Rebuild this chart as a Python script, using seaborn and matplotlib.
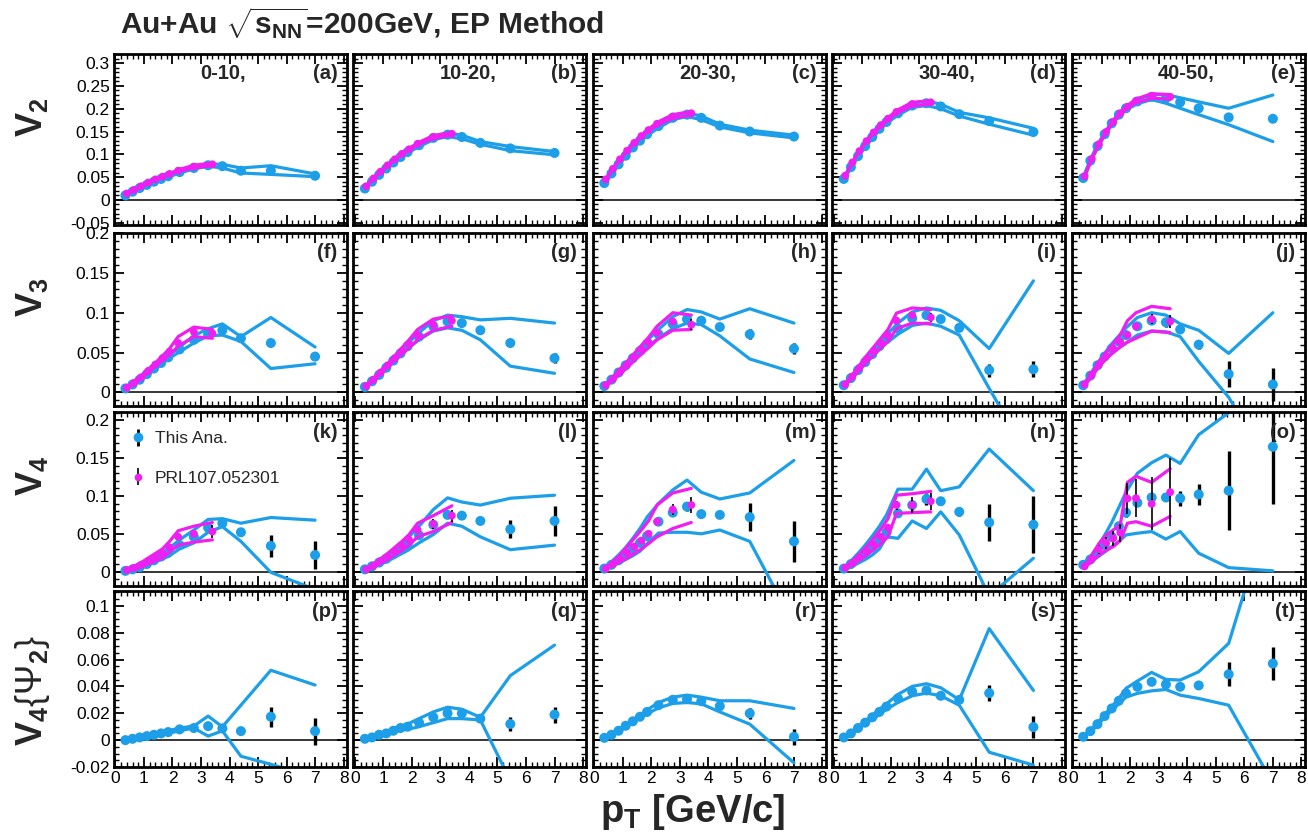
import numpy as np
import matplotlib
matplotlib.use("Agg")
import matplotlib.pyplot as plt
import seaborn as sns
from matplotlib.ticker import MultipleLocator, FuncFormatter

# ---------------------------------------------------------------- data
PT_THIS = [0.35, 0.6, 0.85, 1.1, 1.35, 1.6, 1.85, 2.25, 2.75, 3.25, 3.75, 4.4, 5.45, 7.0]
PT_PRL = [0.4, 0.65, 0.9, 1.15, 1.4, 1.65, 1.9, 2.2, 2.75, 3.4]
CENTRALITIES = ["0-10,", "10-20,", "20-30,", "30-40,", "40-50,"]
PANEL_TAGS = list("abcdefghijklmnopqrst")

# ---- v2
V2_THIS_Y = [
    [0.010, 0.018, 0.026, 0.033, 0.040, 0.046, 0.052, 0.061, 0.070, 0.076, 0.074, 0.064, 0.064, 0.053],
    [0.025, 0.040, 0.055, 0.069, 0.082, 0.094, 0.105, 0.120, 0.136, 0.143, 0.138, 0.125, 0.113, 0.103],
    [0.037, 0.058, 0.078, 0.097, 0.115, 0.130, 0.144, 0.162, 0.180, 0.187, 0.180, 0.163, 0.150, 0.139],
    [0.046, 0.072, 0.096, 0.118, 0.138, 0.156, 0.171, 0.190, 0.207, 0.212, 0.205, 0.188, 0.173, 0.149],
    [0.048, 0.086, 0.118, 0.144, 0.168, 0.187, 0.201, 0.216, 0.226, 0.223, 0.214, 0.201, 0.181, 0.178],
]
V2_THIS_ERR = [
    [0, 0, 0, 0, 0, 0, 0, 0, 0.001, 0.001, 0.001, 0.001, 0.002, 0.002],
    [0, 0, 0, 0, 0, 0, 0, 0, 0.001, 0.001, 0.001, 0.001, 0.002, 0.002],
    [0, 0, 0, 0, 0, 0, 0, 0, 0.001, 0.001, 0.001, 0.001, 0.002, 0.003],
    [0, 0, 0, 0, 0, 0, 0, 0, 0.001, 0.001, 0.001, 0.002, 0.002, 0.003],
    [0, 0, 0, 0, 0, 0, 0, 0, 0.001, 0.001, 0.002, 0.002, 0.003, 0.004],
]
V2_THIS_HI = [
    [0.012, 0.020, 0.028, 0.035, 0.042, 0.048, 0.054, 0.063, 0.073, 0.079, 0.078, 0.070, 0.075, 0.057],
    [0.027, 0.042, 0.057, 0.071, 0.084, 0.096, 0.107, 0.123, 0.140, 0.147, 0.142, 0.128, 0.117, 0.106],
    [0.039, 0.060, 0.080, 0.099, 0.117, 0.133, 0.147, 0.166, 0.184, 0.191, 0.184, 0.166, 0.153, 0.142],
    [0.048, 0.074, 0.098, 0.120, 0.141, 0.159, 0.174, 0.194, 0.211, 0.217, 0.210, 0.192, 0.180, 0.157],
    [0.050, 0.088, 0.121, 0.147, 0.171, 0.190, 0.205, 0.220, 0.231, 0.231, 0.224, 0.215, 0.201, 0.230],
]
V2_THIS_LO = [
    [0.008, 0.016, 0.024, 0.031, 0.038, 0.044, 0.050, 0.059, 0.068, 0.074, 0.070, 0.059, 0.056, 0.051],
    [0.023, 0.038, 0.053, 0.067, 0.080, 0.092, 0.103, 0.117, 0.132, 0.139, 0.134, 0.122, 0.108, 0.099],
    [0.035, 0.056, 0.076, 0.095, 0.113, 0.127, 0.141, 0.158, 0.176, 0.183, 0.176, 0.160, 0.147, 0.136],
    [0.044, 0.070, 0.094, 0.116, 0.135, 0.153, 0.168, 0.186, 0.203, 0.207, 0.200, 0.184, 0.166, 0.142],
    [0.046, 0.084, 0.115, 0.141, 0.165, 0.184, 0.197, 0.211, 0.220, 0.212, 0.201, 0.187, 0.165, 0.128],
]
V2_PRL_Y = [
    [0.014, 0.022, 0.030, 0.038, 0.045, 0.051, 0.057, 0.064, 0.073, 0.078],
    [0.030, 0.047, 0.062, 0.076, 0.089, 0.101, 0.111, 0.123, 0.138, 0.145],
    [0.045, 0.068, 0.089, 0.108, 0.125, 0.140, 0.153, 0.167, 0.183, 0.190],
    [0.053, 0.082, 0.107, 0.129, 0.148, 0.164, 0.178, 0.193, 0.210, 0.214],
    [0.052, 0.090, 0.122, 0.149, 0.171, 0.190, 0.204, 0.217, 0.228, 0.226],
]
V2_PRL_ERR = [
    [0, 0, 0, 0, 0, 0, 0, 0.001, 0.001, 0.001],
    [0, 0, 0, 0, 0, 0, 0, 0.001, 0.001, 0.001],
    [0, 0, 0, 0, 0, 0, 0, 0.001, 0.001, 0.001],
    [0, 0, 0, 0, 0, 0, 0, 0.001, 0.001, 0.002],
    [0, 0, 0, 0, 0, 0, 0, 0.001, 0.002, 0.002],
]
V2_PRL_HI = [
    [0.015, 0.023, 0.031, 0.039, 0.046, 0.052, 0.058, 0.066, 0.076, 0.081],
    [0.031, 0.048, 0.063, 0.077, 0.090, 0.102, 0.113, 0.125, 0.141, 0.148],
    [0.046, 0.069, 0.090, 0.109, 0.126, 0.142, 0.155, 0.170, 0.187, 0.194],
    [0.054, 0.083, 0.108, 0.130, 0.149, 0.166, 0.180, 0.196, 0.214, 0.218],
    [0.053, 0.091, 0.123, 0.150, 0.173, 0.192, 0.207, 0.221, 0.233, 0.231],
]
V2_PRL_LO = [
    [0.013, 0.021, 0.029, 0.037, 0.044, 0.050, 0.056, 0.062, 0.070, 0.075],
    [0.029, 0.046, 0.061, 0.075, 0.088, 0.100, 0.109, 0.121, 0.135, 0.142],
    [0.044, 0.067, 0.088, 0.107, 0.124, 0.138, 0.151, 0.164, 0.179, 0.186],
    [0.052, 0.081, 0.106, 0.128, 0.147, 0.162, 0.176, 0.190, 0.206, 0.210],
    [0.051, 0.089, 0.121, 0.148, 0.169, 0.188, 0.201, 0.213, 0.223, 0.221],
]

# ---- v3
V3_THIS_Y = [
    [0.005, 0.010, 0.016, 0.023, 0.030, 0.037, 0.044, 0.054, 0.066, 0.073, 0.078, 0.068, 0.062, 0.045],
    [0.007, 0.014, 0.022, 0.031, 0.040, 0.049, 0.058, 0.070, 0.083, 0.089, 0.087, 0.078, 0.062, 0.043],
    [0.008, 0.016, 0.025, 0.034, 0.043, 0.052, 0.061, 0.073, 0.086, 0.092, 0.090, 0.082, 0.073, 0.055],
    [0.009, 0.018, 0.028, 0.038, 0.048, 0.058, 0.067, 0.080, 0.093, 0.097, 0.092, 0.081, 0.028, 0.029],
    [0.009, 0.021, 0.034, 0.045, 0.055, 0.064, 0.072, 0.083, 0.090, 0.088, 0.079, 0.060, 0.023, 0.010],
]
V3_THIS_ERR = [
    [0, 0, 0, 0, 0, 0, 0, 0.001, 0.001, 0.001, 0.001, 0.002, 0.002, 0.004],
    [0, 0, 0, 0, 0, 0, 0, 0.001, 0.001, 0.001, 0.002, 0.002, 0.003, 0.006],
    [0, 0, 0, 0, 0, 0, 0, 0.001, 0.001, 0.002, 0.002, 0.003, 0.006, 0.007],
    [0, 0, 0, 0, 0, 0, 0, 0.001, 0.002, 0.003, 0.003, 0.004, 0.008, 0.010],
    [0, 0, 0, 0, 0, 0, 0, 0.002, 0.003, 0.006, 0.004, 0.005, 0.016, 0.021],
]
V3_THIS_HI = [
    [0.006, 0.012, 0.018, 0.025, 0.032, 0.039, 0.046, 0.057, 0.071, 0.080, 0.086, 0.070, 0.094, 0.057],
    [0.008, 0.016, 0.024, 0.033, 0.042, 0.051, 0.061, 0.075, 0.090, 0.097, 0.095, 0.091, 0.093, 0.087],
    [0.009, 0.018, 0.027, 0.036, 0.046, 0.055, 0.065, 0.079, 0.095, 0.104, 0.101, 0.092, 0.105, 0.087],
    [0.010, 0.020, 0.030, 0.040, 0.051, 0.062, 0.072, 0.087, 0.101, 0.106, 0.103, 0.090, 0.055, 0.140],
    [0.010, 0.023, 0.037, 0.049, 0.061, 0.071, 0.081, 0.094, 0.100, 0.097, 0.086, 0.078, 0.049, 0.100],
]
V3_THIS_LO = [
    [0.004, 0.009, 0.014, 0.021, 0.028, 0.035, 0.042, 0.051, 0.062, 0.071, 0.072, 0.064, 0.030, 0.036],
    [0.006, 0.012, 0.020, 0.029, 0.038, 0.047, 0.055, 0.066, 0.077, 0.081, 0.078, 0.066, 0.033, 0.024],
    [0.007, 0.014, 0.023, 0.032, 0.041, 0.049, 0.057, 0.068, 0.080, 0.087, 0.085, 0.071, 0.042, 0.025],
    [0.008, 0.016, 0.026, 0.036, 0.045, 0.054, 0.062, 0.073, 0.084, 0.087, 0.083, 0.072, 0.005, -0.090],
    [0.008, 0.019, 0.031, 0.041, 0.049, 0.056, 0.062, 0.072, 0.077, 0.076, 0.070, 0.039, -0.006, -0.100],
]
V3_PRL_Y = [
    [0.006, 0.012, 0.019, 0.027, 0.035, 0.043, 0.051, 0.062, 0.076, 0.074],
    [0.008, 0.016, 0.025, 0.034, 0.043, 0.052, 0.061, 0.072, 0.085, 0.090],
    [0.009, 0.017, 0.026, 0.035, 0.045, 0.054, 0.063, 0.075, 0.089, 0.085],
    [0.010, 0.020, 0.031, 0.042, 0.052, 0.062, 0.071, 0.090, 0.097, 0.094],
    [0.010, 0.022, 0.035, 0.046, 0.055, 0.063, 0.072, 0.083, 0.092, 0.089],
]
V3_PRL_ERR = [
    [0, 0, 0, 0, 0, 0.001, 0.001, 0.001, 0.002, 0.003],
    [0, 0, 0, 0, 0, 0.001, 0.001, 0.002, 0.003, 0.004],
    [0, 0, 0, 0, 0, 0.001, 0.001, 0.002, 0.004, 0.007],
    [0, 0, 0, 0, 0, 0.001, 0.001, 0.002, 0.004, 0.006],
    [0, 0, 0, 0, 0.001, 0.001, 0.002, 0.003, 0.006, 0.008],
]
V3_PRL_HI = [
    [0.007, 0.014, 0.021, 0.029, 0.037, 0.046, 0.055, 0.070, 0.082, 0.079],
    [0.009, 0.018, 0.027, 0.036, 0.046, 0.056, 0.066, 0.079, 0.092, 0.096],
    [0.010, 0.019, 0.029, 0.039, 0.049, 0.059, 0.069, 0.083, 0.100, 0.097],
    [0.011, 0.022, 0.034, 0.046, 0.057, 0.068, 0.079, 0.0995, 0.106, 0.104],
    [0.011, 0.024, 0.038, 0.050, 0.061, 0.072, 0.090, 0.100, 0.108, 0.105],
]
V3_PRL_LO = [
    [0.005, 0.010, 0.017, 0.025, 0.033, 0.040, 0.047, 0.058, 0.070, 0.068],
    [0.007, 0.014, 0.023, 0.032, 0.040, 0.048, 0.056, 0.066, 0.078, 0.083],
    [0.008, 0.015, 0.023, 0.031, 0.040, 0.048, 0.056, 0.066, 0.078, 0.079],
    [0.009, 0.018, 0.028, 0.038, 0.047, 0.056, 0.064, 0.080, 0.087, 0.086],
    [0.009, 0.020, 0.032, 0.042, 0.050, 0.057, 0.063, 0.068, 0.077, 0.075],
]

# ---- v4
V4_THIS_Y = [
    [0.001, 0.003, 0.006, 0.010, 0.015, 0.020, 0.025, 0.035, 0.046, 0.058, 0.064, 0.052, 0.034, 0.022],
    [0.003, 0.007, 0.012, 0.017, 0.023, 0.029, 0.035, 0.048, 0.062, 0.075, 0.074, 0.067, 0.056, 0.067],
    [0.004, 0.009, 0.015, 0.022, 0.030, 0.038, 0.047, 0.066, 0.078, 0.086, 0.076, 0.075, 0.072, 0.040],
    [0.004, 0.010, 0.017, 0.025, 0.033, 0.042, 0.052, 0.077, 0.088, 0.096, 0.093, 0.079, 0.065, 0.062],
    [0.009, 0.016, 0.025, 0.035, 0.046, 0.060, 0.078, 0.091, 0.098, 0.098, 0.097, 0.102, 0.107, 0.165],
]
V4_THIS_ERR = [
    [0, 0, 0, 0, 0, 0, 0.001, 0.001, 0.002, 0.003, 0.003, 0.003, 0.0145, 0.019],
    [0, 0, 0, 0, 0, 0.001, 0.001, 0.002, 0.003, 0.004, 0.004, 0.004, 0.012, 0.020],
    [0, 0, 0, 0, 0, 0.001, 0.001, 0.002, 0.005, 0.006, 0.003, 0.004, 0.0185, 0.027],
    [0, 0, 0, 0, 0, 0.001, 0.002, 0.003, 0.006, 0.008, 0.004, 0.006, 0.025, 0.0375],
    [0, 0, 0.002, 0.004, 0.005, 0.006, 0.006, 0.004, 0.005, 0.005, 0.010, 0.014, 0.052, 0.075],
]
V4_THIS_HI = [
    [0.002, 0.005, 0.008, 0.012, 0.018, 0.024, 0.030, 0.042, 0.055, 0.069, 0.070, 0.064, 0.0715, 0.068],
    [0.004, 0.009, 0.015, 0.021, 0.028, 0.036, 0.044, 0.060, 0.082, 0.0975, 0.092, 0.088, 0.097, 0.101],
    [0.006, 0.013, 0.022, 0.032, 0.044, 0.057, 0.072, 0.090, 0.108, 0.121, 0.105, 0.096, 0.104, 0.147],
    [0.006, 0.014, 0.024, 0.035, 0.047, 0.060, 0.075, 0.109, 0.109, 0.1355, 0.107, 0.112, 0.162, 0.107],
    [0.010, 0.020, 0.033, 0.048, 0.065, 0.085, 0.105, 0.130, 0.144, 0.154, 0.143, 0.181, 0.210, 0.300],
]
V4_THIS_LO = [
    [0.000, 0.002, 0.004, 0.008, 0.012, 0.016, 0.020, 0.030, 0.038, 0.052, 0.0595, 0.040, -0.001, -0.0235],
    [0.002, 0.005, 0.009, 0.013, 0.018, 0.023, 0.028, 0.038, 0.049, 0.064, 0.060, 0.046, 0.029, 0.035],
    [0.003, 0.007, 0.011, 0.016, 0.021, 0.027, 0.037, 0.051, 0.052, 0.052, 0.050, 0.055, 0.040, -0.070],
    [0.002, 0.006, 0.011, 0.016, 0.022, 0.030, 0.046, 0.044, 0.067, 0.057, 0.079, 0.0485, -0.032, 0.0177],
    [0.008, 0.013, 0.019, 0.026, 0.033, 0.040, 0.0485, 0.0508, 0.053, 0.043, 0.053, 0.0243, 0.0053, 0.001],
]
V4_PRL_Y = [
    [0.002, 0.005, 0.009, 0.014, 0.019, 0.024, 0.032, 0.046, 0.050, 0.053],
    [0.003, 0.008, 0.014, 0.020, 0.027, 0.034, 0.042, 0.055, 0.063, 0.074],
    [0.004, 0.010, 0.017, 0.025, 0.033, 0.041, 0.050, 0.066, 0.082, 0.088],
    [0.005, 0.011, 0.019, 0.027, 0.036, 0.046, 0.058, 0.088, 0.088, 0.093],
    [0.007, 0.017, 0.0296, 0.038, 0.044, 0.0516, 0.0966, 0.097, 0.0895, 0.105],
]
V4_PRL_ERR = [
    [0, 0, 0, 0.001, 0.001, 0.002, 0.002, 0.003, 0.004, 0.008],
    [0, 0, 0.001, 0.001, 0.002, 0.002, 0.003, 0.004, 0.006, 0.008],
    [0, 0, 0.001, 0.001, 0.002, 0.002, 0.003, 0.005, 0.007, 0.010],
    [0, 0.001, 0.001, 0.002, 0.002, 0.003, 0.004, 0.006, 0.010, 0.011],
    [0, 0.003, 0.006, 0.008, 0.010, 0.012, 0.020, 0.025, 0.035, 0.045],
]
V4_PRL_HI = [
    [0.003, 0.007, 0.012, 0.018, 0.024, 0.030, 0.040, 0.054, 0.060, 0.065],
    [0.004, 0.010, 0.017, 0.024, 0.032, 0.040, 0.049, 0.064, 0.074, 0.087],
    [0.005, 0.013, 0.022, 0.033, 0.044, 0.055, 0.067, 0.088, 0.104, 0.110],
    [0.006, 0.014, 0.023, 0.033, 0.044, 0.056, 0.070, 0.101, 0.103, 0.106],
    [0.008, 0.021, 0.037, 0.048, 0.055, 0.062, 0.118, 0.126, 0.118, 0.136],
]
V4_PRL_LO = [
    [0.001, 0.003, 0.006, 0.010, 0.014, 0.018, 0.026, 0.035, 0.039, 0.042],
    [0.002, 0.006, 0.011, 0.016, 0.022, 0.028, 0.035, 0.046, 0.053, 0.065],
    [0.003, 0.008, 0.013, 0.018, 0.024, 0.030, 0.037, 0.046, 0.057, 0.065],
    [0.004, 0.009, 0.015, 0.022, 0.029, 0.037, 0.046, 0.077, 0.078, 0.079],
    [0.006, 0.013, 0.022, 0.028, 0.033, 0.041, 0.064, 0.066, 0.060, 0.073],
]

# ---- v4{Psi2}
V4P2_THIS_Y = [
    [0.000, 0.001, 0.002, 0.003, 0.004, 0.005, 0.006, 0.008, 0.009, 0.0104, 0.0087, 0.0067, 0.0174, 0.0067],
    [0.001, 0.002, 0.004, 0.005, 0.007, 0.009, 0.010, 0.013, 0.017, 0.020, 0.020, 0.016, 0.012, 0.019],
    [0.0017, 0.004, 0.007, 0.0107, 0.014, 0.0174, 0.021, 0.026, 0.030, 0.0305, 0.029, 0.0253, 0.0199, 0.0025],
    [0.002, 0.005, 0.009, 0.013, 0.017, 0.021, 0.025, 0.031, 0.036, 0.037, 0.033, 0.030, 0.035, 0.0097],
    [0.0025, 0.0067, 0.0119, 0.0179, 0.0236, 0.0293, 0.0348, 0.0397, 0.0434, 0.0415, 0.0397, 0.0407, 0.049, 0.057],
]
V4P2_THIS_ERR = [
    [0, 0, 0, 0, 0, 0, 0, 0, 0.001, 0.001, 0.001, 0.001, 0.0075, 0.010],
    [0, 0, 0, 0, 0, 0, 0, 0.001, 0.001, 0.003, 0.001, 0.002, 0.005, 0.006],
    [0, 0, 0, 0, 0, 0, 0, 0.001, 0.001, 0.001, 0.001, 0.002, 0.004, 0.006],
    [0, 0, 0, 0, 0, 0, 0, 0.001, 0.001, 0.001, 0.001, 0.002, 0.006, 0.008],
    [0, 0, 0, 0, 0, 0, 0, 0.001, 0.001, 0.001, 0.002, 0.002, 0.009, 0.0125],
]
V4P2_THIS_HI = [
    [0.001, 0.002, 0.003, 0.004, 0.005, 0.006, 0.007, 0.009, 0.0105, 0.0179, 0.0099, 0.026, 0.052, 0.041],
    [0.0015, 0.003, 0.005, 0.0065, 0.0085, 0.0105, 0.012, 0.016, 0.021, 0.0245, 0.023, 0.017, 0.048, 0.0707],
    [0.0022, 0.0047, 0.0078, 0.0115, 0.015, 0.0185, 0.0225, 0.028, 0.032, 0.0335, 0.032, 0.0293, 0.0293, 0.0236],
    [0.0025, 0.006, 0.010, 0.014, 0.0185, 0.023, 0.027, 0.034, 0.040, 0.042, 0.039, 0.030, 0.083, 0.037],
    [0.003, 0.0075, 0.013, 0.019, 0.025, 0.031, 0.0385, 0.044, 0.0504, 0.0452, 0.0447, 0.0509, 0.072, 0.180],
]
V4P2_THIS_LO = [
    [-0.001, 0.000, 0.001, 0.002, 0.003, 0.004, 0.005, 0.007, 0.009, 0.003, 0.0069, -0.012, -0.018, -0.028],
    [0.0005, 0.001, 0.003, 0.0035, 0.0055, 0.0075, 0.008, 0.010, 0.013, 0.016, 0.016, 0.015, -0.030, -0.070],
    [0.0012, 0.0033, 0.0062, 0.0099, 0.013, 0.0163, 0.0195, 0.024, 0.0273, 0.028, 0.027, 0.021, 0.0119, -0.0169],
    [0.0015, 0.004, 0.008, 0.012, 0.0155, 0.019, 0.023, 0.028, 0.033, 0.035, 0.033, 0.026, -0.009, -0.0186],
    [0.002, 0.006, 0.011, 0.017, 0.022, 0.027, 0.032, 0.0348, 0.0367, 0.0377, 0.0335, 0.031, 0.026, -0.032],
]

# ---------------------------------------------------------------- style
BLUE = "#1c9fe8"
MAGENTA = "#f01ef0"

sns.set_theme(style="ticks")
plt.rcParams["font.family"] = ["Liberation Sans", "DejaVu Sans"]
plt.rcParams["mathtext.fontset"] = "custom"
plt.rcParams["mathtext.rm"] = "Liberation Sans"
plt.rcParams["mathtext.it"] = "Liberation Sans:italic"
plt.rcParams["mathtext.bf"] = "Liberation Sans:bold"

W, H = 1308, 832
fig = plt.figure(figsize=(W / 100, H / 100), dpi=100)
fig.patch.set_facecolor("white")

COL_LEFT = [114 + 239.45 * i for i in range(5)]
COL_WIDTH = 233
ROW_TOP = [54, 233, 412, 591]
ROW_BOTTOM = [225, 406, 586, 767]
XLIM = (-0.05, 8.12)
YLIMS = [(-0.055, 0.32), (-0.017, 0.2), (-0.019, 0.211), (-0.02, 0.111)]
Y_MAJOR = [0.05, 0.05, 0.05, 0.02]
Y_MINOR = [0.01, 0.01, 0.01, 0.005]
ROW_LABELS = [r"$\mathbf{V_2}$", r"$\mathbf{V_3}$", r"$\mathbf{V_4}$",
              r"$\mathbf{V_4}\{\Psi_\mathbf{2}\}$"]

ROWS = [
    (V2_THIS_Y, V2_THIS_ERR, V2_THIS_HI, V2_THIS_LO, V2_PRL_Y, V2_PRL_ERR, V2_PRL_HI, V2_PRL_LO),
    (V3_THIS_Y, V3_THIS_ERR, V3_THIS_HI, V3_THIS_LO, V3_PRL_Y, V3_PRL_ERR, V3_PRL_HI, V3_PRL_LO),
    (V4_THIS_Y, V4_THIS_ERR, V4_THIS_HI, V4_THIS_LO, V4_PRL_Y, V4_PRL_ERR, V4_PRL_HI, V4_PRL_LO),
    (V4P2_THIS_Y, V4P2_THIS_ERR, V4P2_THIS_HI, V4P2_THIS_LO, None, None, None, None),
]

fmt = FuncFormatter(lambda v, _: f"{round(v, 4):g}")


def draw_band(ax, x, hi, lo, color, zorder):
    for edge in (hi, lo):
        sns.lineplot(x=x, y=edge, ax=ax, color=color, lw=2.3, sort=False,
                     estimator=None, legend=False, zorder=zorder)


def draw_points(ax, x, y, err, color, size, elw, zorder):
    y = np.asarray(y, float)
    e = np.asarray(err, float)
    ax.vlines(x, y - e, y + e, color="black", lw=elw, zorder=zorder)
    sns.scatterplot(x=x, y=y, ax=ax, color=color, s=size, edgecolor="none",
                    legend=False, zorder=zorder + 0.5)


for r, row in enumerate(ROWS):
    ty, terr, thi, tlo, py, perr, phi, plo = row
    for c in range(5):
        left = COL_LEFT[c] / W
        bottom = 1 - ROW_BOTTOM[r] / H
        height = (ROW_BOTTOM[r] - ROW_TOP[r]) / H
        ax = fig.add_axes([left, bottom, COL_WIDTH / W, height])
        ax.set_facecolor("white")
        ax.axhline(0, color="black", lw=1.1, zorder=1)

        draw_band(ax, PT_THIS, thi[c], tlo[c], BLUE, 2)
        draw_points(ax, PT_THIS, ty[c], terr[c], BLUE, 52, 2.4, 3)
        if py is not None:
            draw_band(ax, PT_PRL, phi[c], plo[c], MAGENTA, 5)
            draw_points(ax, PT_PRL, py[c], perr[c], MAGENTA, 32, 1.2, 6)

        ax.set_xlim(*XLIM)
        ax.set_ylim(*YLIMS[r])
        ax.xaxis.set_major_locator(MultipleLocator(1))
        ax.xaxis.set_minor_locator(MultipleLocator(0.2))
        ax.yaxis.set_major_locator(MultipleLocator(Y_MAJOR[r]))
        ax.yaxis.set_minor_locator(MultipleLocator(Y_MINOR[r]))
        ax.xaxis.set_major_formatter(fmt)
        ax.yaxis.set_major_formatter(fmt)
        ax.tick_params(which="both", direction="in", top=True, right=True,
                       color="black", labelsize=12.5, labelcolor="black", pad=3)
        ax.tick_params(which="major", length=7, width=1.3)
        ax.tick_params(which="minor", length=3.5, width=1.0)
        ax.tick_params(labelleft=(c == 0), labelbottom=(r == 3))
        for sp in ax.spines.values():
            sp.set_linewidth(2.0)
            sp.set_color("black")
            sp.set_zorder(10)
        ax.set_xlabel("")
        ax.set_ylabel("")

        ax.text(0.96, 0.885, f"({PANEL_TAGS[r * 5 + c]})", transform=ax.transAxes,
                ha="right", va="center", fontsize=14.5, fontweight="bold")
        if r == 0:
            ax.text(0.37, 0.885, CENTRALITIES[c], transform=ax.transAxes,
                    ha="left", va="center", fontsize=14.5, fontweight="bold")

        if r == 2 and c == 0:
            h1 = ax.errorbar([np.nan], [np.nan], yerr=[0.01], fmt="o", color=BLUE,
                             ecolor="black", elinewidth=2.0, ms=7, mec="none")
            h2 = ax.errorbar([np.nan], [np.nan], yerr=[0.01], fmt="o", color=MAGENTA,
                             ecolor="black", elinewidth=1.2, ms=5.5, mec="none")
            ax.legend([h1, h2], ["This Ana.", "PRL107.052301"], loc="upper left",
                      bbox_to_anchor=(0.02, 0.95), frameon=False, fontsize=12.5,
                      handlelength=1.0, handletextpad=0.5, labelspacing=1.4,
                      borderaxespad=0.2)

    fig.text(32 / W, 1 - (ROW_TOP[r] + 44) / H, ROW_LABELS[r], rotation=90,
             ha="center", va="top", fontsize=26, fontweight="bold")

fig.text(120 / W, 1 - 34 / H, r"Au+Au $\sqrt{\mathbf{s_{NN}}}$=200GeV, EP Method",
         ha="left", va="baseline", fontsize=21.5, fontweight="bold")
fig.text(693 / W, 1 - 822 / H, r"$\mathbf{p_T}$ [GeV/c]", ha="center",
         va="baseline", fontsize=27.5, fontweight="bold")

fig.savefig("out.png", dpi=100, facecolor="white")
